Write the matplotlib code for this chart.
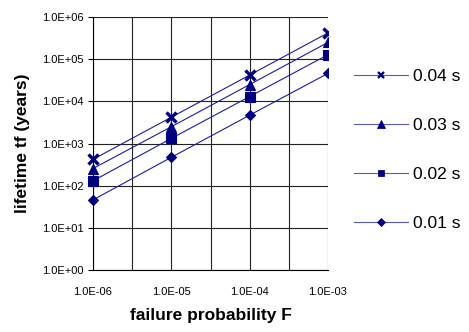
import matplotlib
matplotlib.use("Agg")
import matplotlib.pyplot as plt
import numpy as np
from matplotlib.ticker import FixedLocator, NullFormatter
from matplotlib.patches import Rectangle

plt.rcParams['font.family'] = ['Liberation Sans', 'DejaVu Sans']

# failure probability F and lifetime tf (years) per time step
prob = [1e-6, 1e-5, 1e-4, 1e-3]
labels = ['0.04 s', '0.03 s', '0.02 s', '0.01 s']
life_004 = [420, 4200, 42000, 420000]
life_003 = [255, 2500, 25000, 250000]
life_002 = [130, 1320, 13000, 128000]
life_001 = [46, 470, 4700, 46000]
series = [life_004, life_003, life_002, life_001]
markers = ['x', '^', 's', 'D']
msizes = [6.5, 7, 6.5, 5.5]
mews = [2.4, 0.8, 0.8, 0.8]

xticks = [1e-6, 1e-5, 1e-4, 1e-3]
xtick_labels = ['1.0E-06', '1.0E-05', '1.0E-04', '1.0E-03']
yticks = [1e0, 1e1, 1e2, 1e3, 1e4, 1e5, 1e6]
ytick_labels = ['1.0E+00', '1.0E+01', '1.0E+02', '1.0E+03', '1.0E+04', '1.0E+05', '1.0E+06']

navy = '#000080'
line_col = '#1c1c9c'

fig = plt.figure(figsize=(4.69, 3.32), dpi=100)
ax = fig.add_axes([93/469, 1 - 270/332, (328 - 93)/469, (270 - 17)/332])

# clip only on the right side, like the reference
clip = Rectangle((-0.2, -0.2), 1.2, 1.4, transform=ax.transAxes, visible=False)
ax.add_patch(clip)

handles = []
for vals, lab, m, ms, mw in zip(series, labels, markers, msizes, mews):
    h, = ax.plot(prob, vals, color=line_col, lw=0.8, marker=m, ms=ms, mew=mw,
                 markerfacecolor=navy, markeredgecolor=navy, label=lab)
    h.set_clip_path(clip)
    handles.append(h)

ax.set_xscale('log')
ax.set_yscale('log')
ax.set_xlim(1e-6, 1e-3)
ax.set_ylim(1e0, 1e6)

ax.set_xticks(xticks)
ax.set_xticklabels(xtick_labels, fontsize=8)
ax.xaxis.set_minor_locator(FixedLocator([10**-5.5, 10**-4.5, 10**-3.5]))
ax.xaxis.set_minor_formatter(NullFormatter())
ax.set_yticks(yticks)
ax.set_yticklabels(ytick_labels, fontsize=8)
ax.yaxis.set_minor_locator(FixedLocator([]))

ax.tick_params(axis='y', which='both', direction='out', length=3.5, width=0.8, color='black', pad=3)
ax.tick_params(axis='x', which='both', length=0, pad=12)
ax.grid(True, which='major', color='#222222', lw=0.8)
ax.grid(True, which='minor', axis='x', color='#222222', lw=0.8)
ax.set_axisbelow(True)

ax.spines['top'].set_visible(False)
ax.spines['right'].set_visible(False)
for s in ['left', 'bottom']:
    ax.spines[s].set_linewidth(0.8)

ax.set_xlabel('failure probability F', fontsize=12.5, fontweight='bold', labelpad=8)
ax.set_ylabel('lifetime tf (years)', fontsize=12.5, fontweight='bold', labelpad=9)

leg_handles = []
for h in handles:
    lh, = ax.plot([], [], color='#5a5ab4', lw=0.8, marker=h.get_marker(),
                  ms=h.get_markersize() * 0.75, mew=h.get_markeredgewidth() * 0.7,
                  markerfacecolor=navy, markeredgecolor=navy, label=h.get_label())
    leg_handles.append(lh)

fig.legend(handles=leg_handles, loc='center left', bbox_to_anchor=(354/469, 1 - 150/332),
           frameon=False, fontsize=12.5, labelspacing=1.95, handlelength=3.1,
           handletextpad=0.3, borderpad=0, borderaxespad=0)

fig.savefig('out.png', dpi=100)
